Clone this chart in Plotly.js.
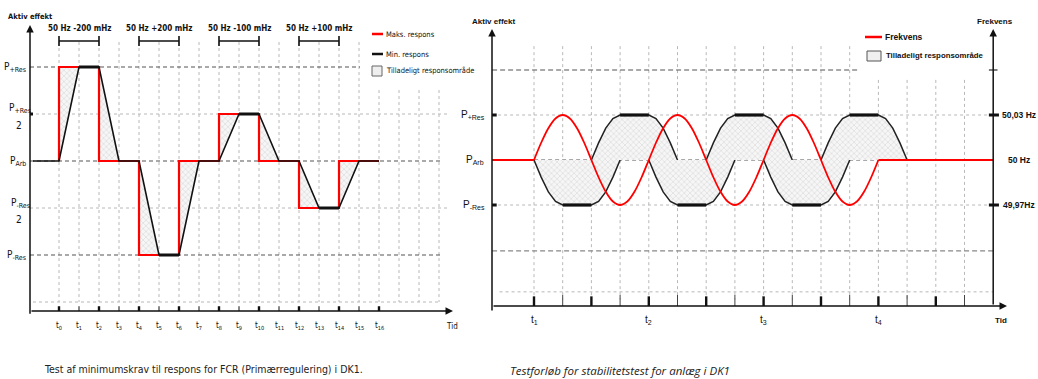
<!DOCTYPE html>
<html><head><meta charset="utf-8">
<script src="https://cdn.plot.ly/plotly-3.0.1.min.js"></script>
<style>html,body{margin:0;padding:0;background:#fff}#chart{width:1038px;height:379px}</style>
</head><body><div id="chart"></div>
<script>
// ---------------- LEFT CHART DATA (time in t-steps, power in units of P_Res, P_Arb = 0)
const leftTickVals = [0,1,2,3,4,5,6,7,8,9,10,11,12,13,14,15,16];
const leftTickText = ['t<sub>0</sub>','t<sub>1</sub>','t<sub>2</sub>','t<sub>3</sub>','t<sub>4</sub>','t<sub>5</sub>','t<sub>6</sub>','t<sub>7</sub>','t<sub>8</sub>','t<sub>9</sub>','t<sub>10</sub>','t<sub>11</sub>','t<sub>12</sub>','t<sub>13</sub>','t<sub>14</sub>','t<sub>15</sub>','t<sub>16</sub>'];
const testStart = [0,4,8,12];
const testLevel = [1,-1,0.5,-0.5];
const testLabels = ['50 Hz -200 mHz','50 Hz +200 mHz','50 Hz -100 mHz','50 Hz +100 mHz'];
const maxRespX = [0,0,2,2,4,4,6,6,8,8,10,10,12,12,14,14,16];
const maxRespY = [0,1,1,0,0,-1,-1,0,0,0.5,0.5,0,0,-0.5,-0.5,0,0];
const minRespX = [-1.3,0,1,2,3,4,5,6,7,8,9,10,11,12,13,14,15,16];
const minRespY = [0,0,1,1,0,0,-1,-1,0,0,0.5,0.5,0,0,-0.5,-0.5,0,0];
const leftLevelText = ['P<sub>+Res</sub>','P<sub>Arb</sub>','P<sub>-Res</sub>'];
const leftLevelVals = [1,0,-1];

// ---------------- RIGHT CHART DATA (time in quarter periods, t1 = 0)
const rightTickVals = [0,4,8,12];
const rightTickText = ['t<sub>1</sub>','t<sub>2</sub>','t<sub>3</sub>','t<sub>4</sub>'];
const freqFlatBeforeX = [-1.46,0];
const freqFlatAfterX = [12,16];
const freqFlatHz = [50,50];
const freqWaveX = [0,0.25,0.5,0.75,1,1.25,1.5,1.75,2,2.25,2.5,2.75,3,3.25,3.5,3.75,4,
  4.25,4.5,4.75,5,5.25,5.5,5.75,6,6.25,6.5,6.75,7,7.25,7.5,7.75,8,
  8.25,8.5,8.75,9,9.25,9.5,9.75,10,10.25,10.5,10.75,11,11.25,11.5,11.75,12];
const freqWaveHz = [50,50.0115,50.0212,50.0277,50.03,50.0277,50.0212,50.0115,50,49.9885,49.9788,49.9723,49.97,49.9723,49.9788,49.9885,50,
  50.0115,50.0212,50.0277,50.03,50.0277,50.0212,50.0115,50,49.9885,49.9788,49.9723,49.97,49.9723,49.9788,49.9885,50,
  50.0115,50.0212,50.0277,50.03,50.0277,50.0212,50.0115,50,49.9885,49.9788,49.9723,49.97,49.9723,49.9788,49.9885,50];
const lobeStart = [0,2,4,6,8,10];
const lobeSign = [-1,1,-1,1,-1,1];
const lobeDX = [0,0.25,0.5,0.75,1,1.5,2,2.25,2.5,2.75,3];
const lobeP = [0,0.38,0.71,0.92,1,1,1,0.92,0.71,0.38,0];
const freqTickVals = [50.03,50,49.97];
const freqTickText = ['50,03 Hz','50 Hz','49,97Hz'];

// ---------------- helpers
const W=1038,H=379;
const PX=x=>x/W, PY=y=>1-y/H;
const NARROW = '"Liberation Sans Narrow","Arial Narrow","DejaVu Sans Condensed",sans-serif';
const SANS = '"Liberation Sans",Arial,sans-serif';
const RED='#ff0000', BLK='#111111', GRID='#b8b8b8', DASH='#555555';
const pattern = {shape:'x', fgcolor:'#d4d4d4', bgcolor:'#f6f6f6', size:4, solidity:0.25};

const traces=[];
// left fills (between max and min response)
testStart.forEach((s,k)=>{
  const L=testLevel[k];
  traces.push({x:[s,s,s+1,s],y:[0,L,L,0],xaxis:'x',yaxis:'y',mode:'lines',fill:'toself',line:{width:0},fillcolor:'#f2f2f2',fillpattern:pattern,hoverinfo:'skip',showlegend:false});
  traces.push({x:[s+2,s+2,s+3,s+2],y:[L,0,0,L],xaxis:'x',yaxis:'y',mode:'lines',fill:'toself',line:{width:0},fillcolor:'#f2f2f2',fillpattern:pattern,hoverinfo:'skip',showlegend:false});
});
traces.push({x:maxRespX,y:maxRespY,xaxis:'x',yaxis:'y',mode:'lines',line:{color:RED,width:2.2},showlegend:false,hoverinfo:'skip'});
traces.push({x:minRespX,y:minRespY,xaxis:'x',yaxis:'y',mode:'lines',line:{color:BLK,width:1.6},showlegend:false,hoverinfo:'skip'});
testStart.forEach((s,k)=>{
  traces.push({x:[s+1,s+2],y:[testLevel[k],testLevel[k]],xaxis:'x',yaxis:'y',mode:'lines',line:{color:BLK,width:3},showlegend:false,hoverinfo:'skip'});
});

// right lobes
lobeStart.forEach((s,k)=>{
  const xs=lobeDX.map(d=>s+d), ys=lobeP.map(p=>p*lobeSign[k]);
  traces.push({x:xs,y:ys,xaxis:'x2',yaxis:'y2',mode:'lines',line:{color:'#222',width:1.5},fill:'tozeroy',fillcolor:'#f4f4f4',fillpattern:pattern,showlegend:false,hoverinfo:'skip'});
  traces.push({x:[s+1,s+2],y:[lobeSign[k],lobeSign[k]],xaxis:'x2',yaxis:'y2',mode:'lines',line:{color:BLK,width:3.2},showlegend:false,hoverinfo:'skip'});
});
traces.push({x:freqFlatBeforeX,y:freqFlatHz,xaxis:'x2',yaxis:'y3',mode:'lines',line:{color:RED,width:2.2},showlegend:false,hoverinfo:'skip'});
traces.push({x:freqWaveX,y:freqWaveHz,xaxis:'x2',yaxis:'y3',mode:'lines',line:{color:RED,width:1.8,shape:'spline',smoothing:0.8},showlegend:false,hoverinfo:'skip'});
traces.push({x:freqFlatAfterX,y:freqFlatHz,xaxis:'x2',yaxis:'y3',mode:'lines',line:{color:RED,width:2.2},showlegend:false,hoverinfo:'skip'});

// ---------------- shapes
const shapes=[];
const L=(x0,y0,x1,y1,color,width,dash,xref,yref,layer)=>shapes.push({type:'line',x0,y0,x1,y1,xref,yref,layer:layer||'above',line:{color,width,dash:dash||'solid'}});
for(let t=0;t<=19;t++){
  L(t,t<=15?1.266:0.755,t,-1.5,GRID,1,'dot','x','y','below');
}
L(-1.45,1,15.05,1,DASH,1.1,'4px,3px','x','y','below');
L(-1.45,0,19.2,0,DASH,1.1,'4px,3px','x','y','below');
L(-1.45,-1,19.2,-1,DASH,1.1,'4px,3px','x','y','below');
L(-1.45,0.5,19.4,0.5,GRID,1,'dot','x','y','below');
L(-1.45,-0.5,19.4,-0.5,GRID,1,'dot','x','y','below');
L(-1.3,-1.5,19.05,-1.5,GRID,1,'dot','x','y','below');
leftTickVals.forEach(t=>L(t,-1.545,t,-1.65,BLK,t%2===0?2.4:1,'solid','x','y'));
L(-1.6,0.5,-1.3,0.5,BLK,3,'solid','x','y');
L(-1.6,-1,-1.45,-1,BLK,1,'solid','x','y');
testStart.forEach(s=>{
  L(s,PY(41),s+2,PY(41),BLK,1.4,'solid','x','paper');
  L(s,PY(36),s,PY(46),BLK,1.6,'solid','x','paper');
  L(s+2,PY(36),s+2,PY(46),BLK,1.6,'solid','x','paper');
});
L(PX(372),PY(34),PX(383),PY(34),RED,2.5,'solid','paper','paper');
L(PX(372),PY(54),PX(383),PY(54),BLK,2.5,'solid','paper','paper');
shapes.push({type:'rect',xref:'paper',yref:'paper',x0:PX(372),x1:PX(382),y0:PY(76),y1:PY(66),line:{color:'#666',width:1},fillcolor:'#efefef'});

for(let i=0;i<=15;i++){
  L(i,i<=11?2.53:1.78,i,-3.1,GRID,1,'dot','x2','y2','below');
}
L(-1.46,2,11.36,2,DASH,1.2,'5px,3px','x2','y2','below');
L(-1.46,-2.02,16.1,-2.02,'#888',1.4,'5px,3px','x2','y2','below');
L(-1.46,0,16.1,0,DASH,1.2,'4px,3px','x2','y2','below');
L(-1.46,1,16.1,1,GRID,1,'dot','x2','y2','below');
L(-1.46,-1,16.1,-1,GRID,1,'dot','x2','y2','below');
L(-1.2,-2.93,16,-2.93,GRID,1,'dot','x2','y2','below');
for(let i=0;i<=15;i++){
  if(i%2===0) L(i,-3.03,i,-3.35,BLK,2.4,'solid','x2','y2');
  else L(i,-3.0,i,-3.2444,'#444',1,'solid','x2','y2');
}
L(-1.65,1,-1.3,1,BLK,3,'solid','x2','y2');
L(-1.65,-1,-1.3,-1,BLK,3,'solid','x2','y2');
L(15.85,1,16.2,1,BLK,3,'solid','x2','y2');
L(15.85,-1,16.2,-1,BLK,3,'solid','x2','y2');
L(15.85,2,16.15,2,'#555',1.5,'solid','x2','y2');
L(PX(865),PY(37),PX(882),PY(37),RED,2.5,'solid','paper','paper');
shapes.push({type:'rect',xref:'paper',yref:'paper',x0:PX(867),x1:PX(881),y0:PY(61),y1:PY(51),line:{color:'#555',width:1},fillcolor:'#efefef'});

// ---------------- annotations
const ann=[];
const T=(text,x,y,opt)=>ann.push(Object.assign({text,x,y,xref:'paper',yref:'paper',showarrow:false,xanchor:'center',yanchor:'middle',font:{family:NARROW,size:8,color:'#111'}},opt||{}));
const ARW=(x,y,ax,ay,xr,yr)=>ann.push({x,y,ax,ay,xref:xr,yref:yr,axref:xr,ayref:yr,text:'',showarrow:true,arrowhead:2,arrowsize:1,arrowwidth:1.5,arrowcolor:'#111',standoff:0,startstandoff:0});
ARW(-1.45,1.4468,-1.45,-1.64,'x','y');
ARW(19.7,-1.5957,-1.45,-1.5957,'x','y');
ARW(-1.4634,2.911,-1.4634,-3.38,'x2','y2');
ARW(16.481,-3.2444,-1.4634,-3.2444,'x2','y2');
ARW(16,2.911,16,-3.2444,'x2','y2');

T('<b>Aktiv effekt</b>',PX(30),PY(17),{font:{family:NARROW,size:7.5,color:'#111'}});
testStart.forEach((s,k)=>T('<b>'+testLabels[k]+'</b>',s+1,PY(29),{xref:'x',font:{family:NARROW,size:8,color:'#111'}}));
T('Maks. respons',PX(384),PY(34),{xanchor:'left',font:{family:NARROW,size:7.5,color:'#111'}});
T('Min. respons',PX(384),PY(54),{xanchor:'left',font:{family:NARROW,size:7.5,color:'#111'}});
T('Tilladeligt responsområde',PX(384),PY(71),{xanchor:'left',font:{family:NARROW,size:7.5,color:'#111'}});
leftLevelVals.forEach((v,k)=>T(leftLevelText[k],PX(28),v,{yref:'y',xanchor:'right',font:{family:NARROW,size:10,color:'#111'}}));
T('P<sub>+Res</sub>',PX(20),PY(109),{font:{family:NARROW,size:10,color:'#111'}});
T('2',PX(19),PY(125),{font:{family:NARROW,size:10,color:'#111'}});
T('P<sub>-Res</sub>',PX(20),PY(203),{font:{family:NARROW,size:10,color:'#111'}});
T('2',PX(19),PY(219),{font:{family:NARROW,size:10,color:'#111'}});
leftTickVals.forEach((t,k)=>T(leftTickText[k],t,PY(326),{xref:'x',font:{family:NARROW,size:8,color:'#111'}}));
T('Tid',PX(452),PY(326),{font:{family:NARROW,size:8,color:'#111'}});
T('Test af minimumskrav til respons for FCR (Primærregulering) i DK1.',PX(42),PY(369),{xanchor:'left',font:{family:'"DejaVu Sans Condensed","DejaVu Sans",sans-serif',size:10.5,color:'#222'}});

T('<b>Aktiv effekt</b>',PX(493),PY(21),{font:{family:SANS,size:8,color:'#111'}});
T('<b>Frekvens</b>',PX(995),PY(21),{font:{family:SANS,size:8,color:'#111'}});
T('<b>Frekvens</b>',PX(883),PY(37),{xanchor:'left',font:{family:SANS,size:8.5,color:'#111'}});
T('<b>Tilladeligt responsområde</b>',PX(884),PY(56),{xanchor:'left',font:{family:SANS,size:7.8,color:'#111'}});
T('P<sub>+Res</sub>',PX(487),1,{yref:'y2',xanchor:'right',font:{family:SANS,size:10,color:'#111'}});
T('P<sub>Arb</sub>',PX(486),0,{yref:'y2',xanchor:'right',font:{family:SANS,size:10,color:'#111'}});
T('P<sub>-Res</sub>',PX(487),-1,{yref:'y2',xanchor:'right',font:{family:SANS,size:10,color:'#111'}});
freqTickVals.forEach((v,k)=>T('<b>'+freqTickText[k]+'</b>',PX(1019),v,{yref:'y3',font:{family:SANS,size:8.5,color:'#111'}}));
rightTickVals.forEach((v,k)=>T(rightTickText[k],v,PY(320),{xref:'x2',font:{family:SANS,size:10,color:'#111'}}));
T('<b>Tid</b>',PX(1001),PY(320),{font:{family:SANS,size:8,color:'#111'}});
T('<i>Testforløb for stabilitetstest for anlæg i DK1</i>',PX(508),PY(370),{xanchor:'left',font:{family:'"Open Sans",sans-serif',size:11.5,color:'#222'}});

const ax = (domain,range)=>({domain,range,showgrid:false,zeroline:false,showline:false,showticklabels:false,ticks:'',fixedrange:true});
const layout={
  width:W,height:H,margin:{l:0,r:0,t:0,b:0},paper_bgcolor:'#fff',plot_bgcolor:'rgba(0,0,0,0)',showlegend:false,
  xaxis:Object.assign(ax([PX(30),PX(453)],[-1.45,19.7]),{anchor:'y'}),
  yaxis:Object.assign(ax([PY(311),PY(25)],[-1.5957,1.4468]),{anchor:'x'}),
  xaxis2:Object.assign(ax([PX(492),PX(1007)],[-1.4634,16.481]),{anchor:'y2'}),
  yaxis2:Object.assign(ax([PY(306),PY(29)],[-3.2444,2.9111]),{anchor:'x2'}),
  yaxis3:Object.assign(ax([PY(306),PY(29)],[50-3.2444*0.03,50+2.9111*0.03]),{overlaying:'y2',anchor:'x2',side:'right'}),
  shapes,annotations:ann
};
Plotly.newPlot('chart',traces,layout,{staticPlot:true,displayModeBar:false});
</script></body></html>
